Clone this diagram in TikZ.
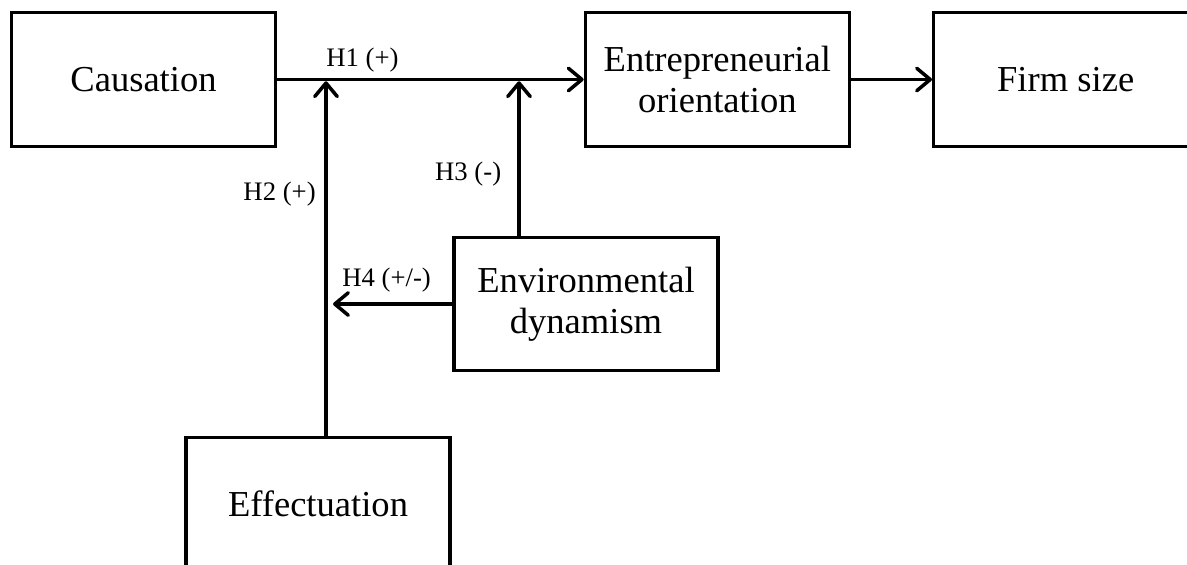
\documentclass[tikz,border=0pt]{standalone}
\usepackage{fontspec}
\setmainfont{Liberation Serif}
\usetikzlibrary{positioning,arrows.meta}
\tikzset{
    modelbox/.style={draw, line width=1.9pt, align=center, minimum width=5.28cm, minimum height=2.67cm, font=\fontsize{20.8}{23.5}\selectfont},
    modelarrow/.style={draw, line width=2pt, -{Straight Barb[length=2.7mm, width=4.5mm, line width=2pt, round]}},
    modellabel/.style={font=\fontsize{15.2}{17}\selectfont, inner sep=0pt}
}
\begin{document}
\begin{tikzpicture}[node distance=1.0cm and 1.0cm]
    \useasboundingbox (0,0) rectangle (23.74,-11.28);

    \node[modelbox] (caus) at (2.87,-1.59) {Causation};
    \node[modelbox, right=6.13cm of caus] (eo) {Entrepreneurial\\orientation};
    \node[modelbox, right=1.62cm of eo] (fs) {Firm size};
    \node[modelbox] (env) at (11.72,-6.08) {Environmental\\dynamism};
    \node[modelbox] (eff) at (6.36,-10.08) {Effectuation};

    % junctions on the H1 path
    \coordinate (j1) at (6.52,-1.59);
    \coordinate (j2) at (10.38,-1.59);

    \draw[modelarrow] (caus.east) -- (eo.west);
    \draw[modelarrow] (eo.east) -- (fs.west);
    \draw[modelarrow, shorten >=1pt] (eff.north -| j1) -- (j1);
    \draw[modelarrow, shorten >=1pt] (env.north -| j2) -- (j2);
    \draw[modelarrow, shorten >=4pt] (env.west) -- (env.west -| j1);

    \node[modellabel, anchor=base west] (h1) at ([yshift=0.27cm]j1) {H1 (+)};
    \node[modellabel, anchor=base east] (h2) at (6.32,-4.0) {H2 (+)};
    \node[modellabel, anchor=base east] (h3) at (10.03,-3.6) {H3 (-)};
    \node[modellabel, anchor=base west] (h4) at (6.84,-5.72) {H4 (+/-)};
\end{tikzpicture}
\end{document}
